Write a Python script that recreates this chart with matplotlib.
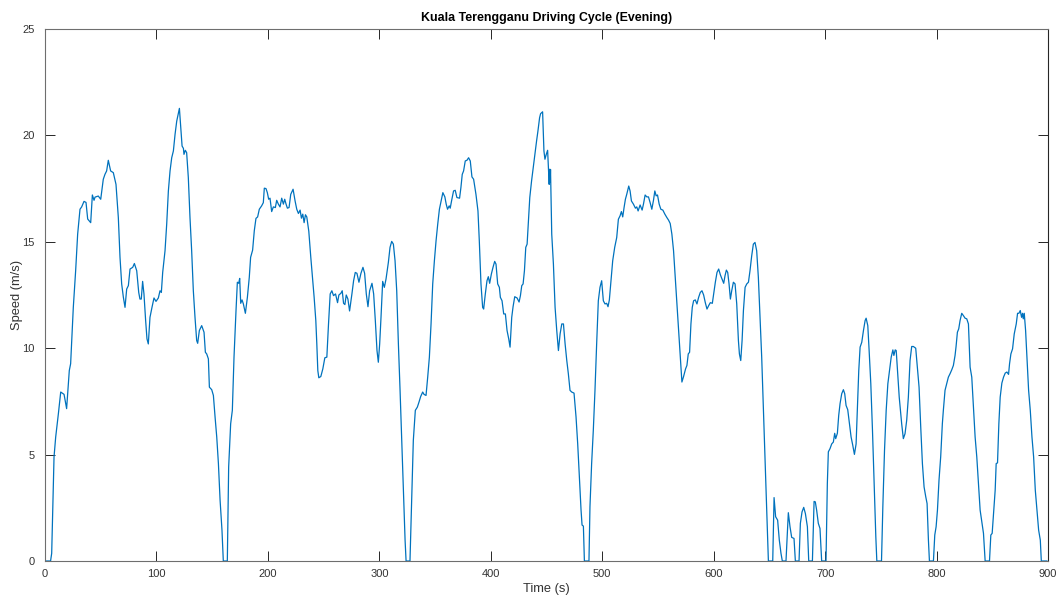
import numpy as np
import matplotlib
matplotlib.use("Agg")
import matplotlib.pyplot as plt

plt.rcParams['font.family'] = ['Liberation Sans', 'DejaVu Sans']

# speed trace, split per trip (time in s, speed in m/s)
t_trip1 = [0, 5, 6, 8.1, 9.6, 12, 14.1, 17.1, 19.4, 21.8,
           23, 25.4, 27.5, 29.3, 31.4, 32.9, 35, 36.8, 38.3, 41,
           42.5, 44, 44.9, 47.8, 50, 52.3, 53.8, 55.3, 56.8, 58.9,
           61.3, 63.7, 65.8, 67.3, 68.8, 70.3, 71.8, 73.3, 74.8, 76.3,
           78.7, 80.2, 82.3, 84.1, 85.2, 86.4, 87.6, 88.8, 90.3, 91.5,
           92.7, 94.2, 96, 97.8, 99.6, 101.7, 103.2, 104.4, 105.6, 107.7,
           109.2, 110.7, 112.2, 113.7, 115.2, 116.7, 118.2, 120.6, 121.8, 123,
           124.2, 124.7, 125.9, 127.1, 128.6, 130.1, 131.6, 133.1, 134.6, 136.1,
           137, 138.5, 140.6, 142.7, 143.9, 145.1, 146.6, 147.5, 149.6, 151.1,
           152.6, 154.1, 155.6, 157.1, 158.8, 160, 163.6]
v_trip1 = [0, 0, 0.36, 4.89, 5.83, 6.92, 7.94, 7.83, 7.16, 8.95,
           9.27, 11.92, 13.64, 15.36, 16.53, 16.64, 16.9, 16.85, 16.07, 15.9,
           17.2, 16.95, 17.1, 17.15, 17.0, 17.94, 18.17, 18.33, 18.83, 18.33,
           18.25, 17.7, 16.14, 14.27, 13.02, 12.4, 11.92, 12.78, 12.94, 13.72,
           13.8, 13.98, 13.64, 12.62, 12.31, 12.31, 13.14, 12.55, 11.3, 10.44,
           10.2, 11.45, 11.92, 12.36, 12.2, 12.36, 12.7, 12.62, 13.56, 14.58,
           15.83, 17.39, 18.33, 18.95, 19.27, 20.05, 20.67, 21.27, 20.36, 19.5,
           19.39, 19.11, 19.3, 19.19, 18.02, 16.14, 14.58, 12.7, 11.45, 10.36,
           10.23, 10.83, 11.06, 10.75, 9.81, 9.73, 9.5, 8.17, 8.05, 7.78,
           6.77, 5.83, 4.58, 2.86, 1.45, 0, 0]

t_trip2 = [164.8, 166.6, 168.1, 169.6, 171.4, 172.6, 173.8, 174.7, 175.6, 176.8,
           178, 179.8, 181.6, 183.3, 184.5, 186.3, 187.8, 189.3, 190.8, 192.3,
           194.4, 195.9, 196.8, 198.3, 199.5, 200.7, 201.9, 203.4, 204.9, 206.7,
           207.9, 209.4, 210.9, 212.4, 213.9, 215.1, 216.3, 217.5, 219, 220.5,
           222.6, 224.4, 225.9, 227.4, 228.9, 230.1, 231.3, 232.5, 233.7, 234.9,
           236.7, 238.5, 240.3, 241.5, 243, 243.9, 244.8, 245.7, 247.5, 249.3,
           251.1, 252.9, 254.4, 255.9, 257.4, 258.9, 260.7, 262.5, 263.7, 265.5,
           266.7, 267.9, 269.1, 270.3, 271.8, 273.3, 275.4, 276.9, 278.4, 279.9,
           281.7, 283.5, 285.3, 286.8, 288.3, 289.8, 291.3, 293.4, 294.9, 296.4,
           297.9, 299.1, 300.3, 301.5, 303, 304.5, 306, 308.1, 309.6, 311.1,
           312.6, 314.1, 315.6, 317.1, 318.6, 320.1, 321.6, 323.1, 324, 327.5]
v_trip2 = [4.42, 6.45, 7.08, 9.58, 11.77, 13.1, 13.05, 13.28, 12.11, 12.27,
           12.08, 11.64, 12.39, 13.33, 14.27, 14.61, 15.52, 16.1, 16.17, 16.53,
           16.69, 16.84, 17.52, 17.5, 17.31, 17.0, 17.05, 16.42, 16.64, 16.61,
           16.95, 16.77, 16.64, 17.05, 16.77, 17.0, 16.77, 16.58, 16.61, 17.23,
           17.47, 16.92, 16.53, 16.33, 16.49, 16.11, 16.3, 15.9, 16.27, 16.17,
           15.5, 14.27, 13.17, 12.39, 11.3, 10.2, 8.95, 8.61, 8.67, 9.03,
           9.55, 9.58, 11.14, 12.55, 12.7, 12.47, 12.55, 12.14, 12.5, 12.58,
           12.7, 12.11, 12.05, 12.5, 12.31, 11.75, 12.55, 13.17, 13.56, 13.52,
           13.1, 13.52, 13.8, 13.52, 12.55, 11.95, 12.7, 13.05, 12.55, 11.3,
           9.89, 9.34, 10.2, 11.45, 13.14, 12.86, 13.25, 14.03, 14.74, 15.02,
           14.89, 14.11, 12.7, 10.2, 8.02, 5.67, 3.33, 0.98, 0, 0]

t_trip3 = [329, 330.5, 332.3, 334.1, 335.6, 337.1, 338.9, 340.1, 341.9, 343.4,
           344.9, 346.4, 347.9, 349.4, 350.9, 352.4, 353.9, 355.5, 357, 358.8,
           360, 361.2, 362.7, 363.6, 364.8, 366.6, 368.1, 369.6, 372, 373.2,
           374.4, 375.6, 377.1, 378.6, 380.1, 381.6, 383.1, 384.6, 386.7, 388.5,
           389.7, 391.2, 392.7, 393.6, 395.1, 396.6, 397.8, 399, 400.5, 402,
           403.5, 404.7, 406.2, 407.7, 408.6, 410.1, 411.6, 413.1, 414.6, 416.1,
           417.3, 418.8, 420, 421.5, 423.6, 425.4, 426.6, 427.8, 429, 430.2,
           431.4, 432.6, 433.8, 435, 436.6, 438.1, 439.6, 441.1, 442.3, 443.8,
           444.7, 446.5, 447.1, 447.7, 448.6, 449.8, 451, 451.9, 452.4, 452.9,
           453.3, 453.6, 454.7, 456.2, 457.7, 459.2, 460.7, 462.2, 463.7, 465.2,
           466.7, 468.2, 469.6, 471.1, 472.6, 474.7, 476.5, 478, 479.5, 481,
           481.9, 483.1, 484, 488.1]
v_trip3 = [2.86, 5.67, 7.08, 7.23, 7.47, 7.73, 7.94, 7.83, 7.78, 8.64,
           9.58, 11.14, 13.02, 14.11, 15.05, 15.83, 16.53, 16.92, 17.31, 17.11,
           16.77, 16.53, 16.69, 16.58, 16.92, 17.39, 17.42, 17.08, 17.05, 17.55,
           18.17, 18.33, 18.8, 18.83, 18.95, 18.8, 18.05, 17.94, 17.23, 16.45,
           15.05, 13.02, 11.92, 11.84, 12.55, 13.17, 13.36, 13.05, 13.48, 13.8,
           14.08, 13.95, 13.02, 12.86, 12.39, 12.23, 11.61, 11.61, 10.83, 10.44,
           10.05, 11.45, 11.95, 12.42, 12.36, 12.17, 12.47, 12.94, 13.02, 13.64,
           14.74, 14.89, 16.0, 17.08, 17.86, 18.49, 19.11, 19.74, 20.2, 20.83,
           21.02, 21.11, 20.2, 19.27, 18.88, 19.11, 19.3, 18.33, 17.7, 18.41,
           17.8, 18.4, 15.36, 13.95, 11.92, 10.83, 9.89, 10.67, 11.14, 11.14,
           10.2, 9.42, 8.8, 8.02, 7.94, 7.89, 6.77, 5.5, 3.95, 2.39,
           1.69, 1.64, 0, 0]

t_trip4 = [489, 490.5, 492, 493.5, 495, 496.5, 498, 499.5, 501, 502.5,
           504, 505.2, 506.4, 507.9, 509.4, 511.2, 513, 514.5, 516, 517.2,
           518.4, 519.6, 520.8, 522, 523.8, 525, 526.2, 528, 529.8, 531,
           532.2, 534, 535.8, 537, 538.5, 540, 541.5, 543, 544.5, 546,
           547.2, 548.4, 549.6, 551.1, 552.6, 554.4, 556.2, 558, 559.5, 561,
           562.5, 564, 565.5, 567, 568.5, 570, 571.5, 573, 574.8, 576,
           577.2, 578.4, 579.6, 580.8, 582, 583.5, 585, 586.5, 588, 589.5,
           591, 592.5, 594, 595.5, 597, 598.8, 600, 601.5, 603, 604.5,
           606, 607.5, 609, 610.2, 611.4, 612.6, 613.8, 615, 616.2, 617.7,
           619.2, 620.7, 622.2, 623.1, 624.3, 625.5, 626.7, 628.2, 629.7, 631.2,
           632.6, 634.1, 635.6, 637.1, 638.6, 640.1, 641.6, 643.1, 644.6, 646.1,
           647.6, 649.1, 653]
v_trip4 = [2.55, 4.58, 6.14, 8.02, 10.2, 12.23, 12.86, 13.17, 12.23, 12.08,
           12.11, 11.95, 12.27, 13.17, 14.11, 14.74, 15.2, 16.06, 16.22, 16.42,
           16.17, 16.61, 17.0, 17.23, 17.62, 17.39, 16.92, 16.77, 16.58, 16.64,
           16.45, 16.73, 16.49, 16.77, 17.2, 17.11, 17.11, 16.84, 16.53, 16.95,
           17.39, 17.16, 17.2, 16.77, 16.53, 16.49, 16.3, 16.14, 16.02, 15.86,
           15.36, 14.58, 13.33, 12.08, 10.83, 9.58, 8.41, 8.67, 9.03, 9.19,
           9.73, 9.81, 11.14, 11.92, 12.23, 12.27, 12.08, 12.39, 12.62, 12.7,
           12.5, 12.14, 11.84, 12.0, 12.14, 12.11, 12.55, 13.1, 13.56, 13.72,
           13.45, 13.25, 13.05, 13.41, 13.67, 13.56, 13.02, 12.31, 12.7, 13.1,
           13.02, 12.08, 10.36, 9.73, 9.42, 10.36, 11.77, 12.86, 13.02, 13.1,
           13.64, 14.33, 14.89, 14.97, 14.58, 13.33, 11.45, 9.58, 7.23, 4.89,
           2.39, 0, 0]

t_trip5 = [654.2, 655.6, 656.5, 657.4, 658.9, 660.4, 661.6, 664.9, 665.8, 667,
           668.5, 670, 672.1, 673.3, 676.6, 677.8, 679.3, 680.8, 682.3, 684.1,
           685.3, 688.6, 690.1, 691.2, 692.4, 693.9, 695.4, 696.9, 700.8, 702,
           702.9, 704.4, 705.9, 707.4, 708.6, 709.5, 711, 712.2, 713.4, 714.9,
           716.4, 717.6, 718.8, 720.3, 721.8, 723.3, 724.8, 726.3, 727.8, 729,
           730.2, 731.4, 732.9, 734.4, 735.9, 736.8, 738.3, 739.5, 741, 742.5,
           744, 745.5, 746.4, 750.6]
v_trip5 = [2.98, 2.08, 2.0, 1.92, 0.98, 0.36, 0, 0, 0.98, 2.27,
           1.61, 1.11, 1.06, 0, 0, 1.77, 2.31, 2.52, 2.23, 1.61,
           0, 0, 2.8, 2.78, 2.39, 1.77, 1.53, 0, 0, 3.64,
           5.13, 5.28, 5.5, 5.59, 6.0, 5.75, 6.0, 6.84, 7.39, 7.86,
           8.05, 7.86, 7.31, 7.11, 6.45, 5.83, 5.44, 5.01, 5.5, 7.23,
           8.95, 10.05, 10.28, 10.83, 11.3, 11.41, 11.06, 9.89, 8.33, 6.14,
           3.64, 1.14, 0, 0]

t_trip6 = [751.8, 753.3, 754.8, 756.3, 757.8, 759.3, 760.8, 761.7, 762.9, 763.8,
           765, 766.5, 768.7, 770.2, 771.7, 773.2, 774.7, 776.2, 777.7, 779.2,
           781.3, 782.8, 784.3, 785.8, 787.3, 788.8, 790.3, 791.5, 792.7, 793.6,
           797.2, 798.4, 799.6, 800.8, 802.2, 803.7, 805.2, 806.1, 807.6, 809.1,
           810.6, 812.1, 813.6, 815.1, 816.6, 817.5, 818.7, 819.9, 821.1, 822.6,
           824.1, 825.6, 827.1, 828.6, 830.1, 831.6, 833.1, 834.6, 836.1, 837.6,
           839.1, 840.6, 842.1, 843.6, 847.5, 848.7, 849.9, 851.1, 852.6, 853.5,
           854.7, 855.9, 857.1, 858.6, 860.1, 861.6, 863.1, 864.6, 865.5, 866.7,
           868.2, 869.7, 871.5, 872.7, 873.9, 875.1, 876.3, 877.2, 877.8, 878.7,
           879.9, 881.1, 882.6, 884.1, 885.6, 887.1, 888.6, 890.1, 891.6, 893.1,
           894, 899]
v_trip6 = [2.55, 5.2, 7.08, 8.33, 8.95, 9.58, 9.92, 9.66, 9.92, 9.89,
           8.95, 7.7, 6.45, 5.75, 5.98, 6.61, 7.7, 9.42, 10.08, 10.08,
           10.0, 9.11, 8.17, 6.3, 4.58, 3.48, 3.02, 2.7, 0.98, 0,
           0, 1.22, 1.61, 2.39, 3.8, 4.89, 6.45, 7.08, 8.02, 8.33,
           8.64, 8.8, 8.98, 9.19, 9.66, 10.08, 10.75, 10.91, 11.3, 11.64,
           11.53, 11.41, 11.38, 11.14, 9.11, 8.64, 7.23, 5.83, 4.89, 3.64,
           2.39, 1.84, 1.3, 0, 0, 1.22, 1.3, 2.23, 3.33, 4.58,
           4.61, 6.45, 7.7, 8.36, 8.64, 8.83, 8.88, 8.77, 9.27, 9.73,
           9.97, 10.67, 11.14, 11.64, 11.64, 11.77, 11.45, 11.64, 11.38, 11.64,
           10.83, 9.58, 8.02, 7.08, 5.83, 4.89, 3.33, 2.39, 1.45, 0.98,
           0, 0]

time_s = np.concatenate([t_trip1, t_trip2, t_trip3, t_trip4, t_trip5, t_trip6])
speed = np.concatenate([v_trip1, v_trip2, v_trip3, v_trip4, v_trip5, v_trip6])

tick_col = "#262626"
label_col = "#333333"

fig = plt.figure(figsize=(10.61, 6.0), dpi=100)
ax = fig.add_axes([45 / 1061, 1 - 561 / 600, 1003 / 1061, 532 / 600])

ax.plot(time_s, speed, color="#0072BD", lw=0.9)

ax.set_xlim(0, 900)
ax.set_ylim(0, 25)
ax.set_xticks(np.arange(0, 901, 100))
ax.set_yticks(np.arange(0, 26, 5))
ax.tick_params(direction="in", length=7, width=0.7, color=tick_col,
               labelcolor=label_col, labelsize=8, top=True, right=True)
ax.tick_params(axis="x", pad=6)
ax.tick_params(axis="y", pad=7.5)
for name, s in ax.spines.items():
    s.set_color("#6e6e6e")
    s.set_linewidth(0.8)
ax.spines["right"].set_color(tick_col)

ax.set_title("Kuala Terengganu Driving Cycle (Evening)", fontsize=8.9,
             fontweight="bold", color="black", pad=6)
ax.set_xlabel("Time (s)", fontsize=9.3, color=label_col)
ax.set_ylabel("Speed (m/s)", fontsize=9.3, color=label_col)
ax.xaxis.set_label_coords(0.5, -0.0414)
ax.xaxis.label.set_va("top")
ax.yaxis.set_label_coords(-0.0219, 0.5)

fig.savefig("out.png", dpi=100)
